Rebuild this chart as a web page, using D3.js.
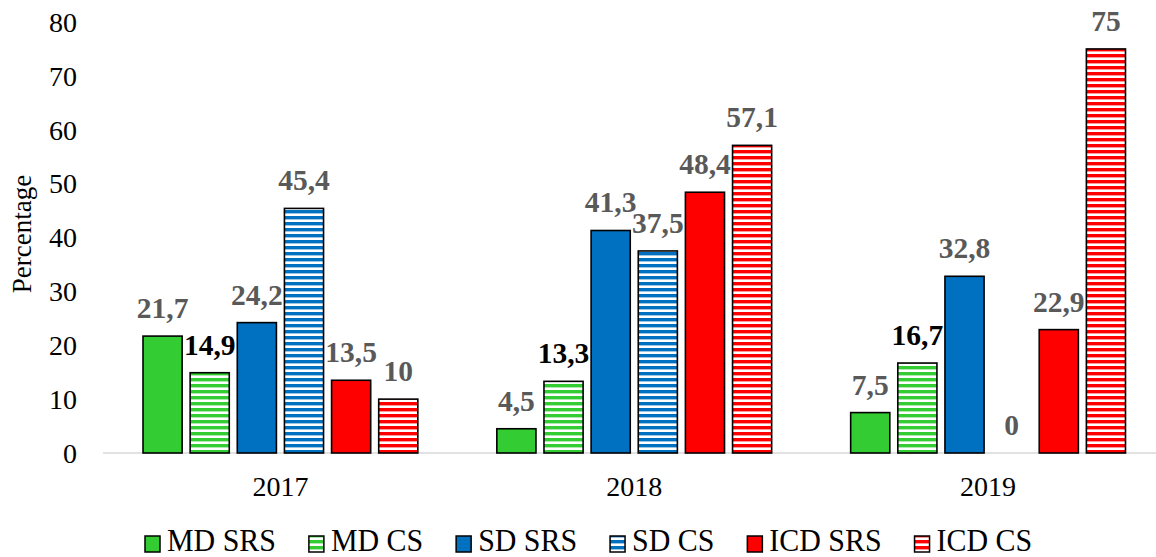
<!DOCTYPE html>
<html>
<head>
<meta charset="utf-8">
<script src="https://cdn.jsdelivr.net/npm/d3@7"></script>
<style>
  body { margin: 0; background: #fff; }
  svg { display: block; font-family: "Liberation Serif", "Times New Roman", serif; }
</style>
</head>
<body>
<svg id="chart" width="1156" height="557"></svg>
<script>
// data
const years = ["2017", "2018", "2019"];
const seriesNames = ["MD SRS", "MD CS", "SD SRS", "SD CS", "ICD SRS", "ICD CS"];
const seriesColors = ["#33cc33", "#33cc33", "#0070c0", "#0070c0", "#ff0000", "#ff0000"];
const striped = [false, true, false, true, false, true];
const values = [
  [21.7, 4.5, 7.5],
  [14.9, 13.3, 16.7],
  [24.2, 41.3, 32.8],
  [45.4, 37.5, 0],
  [13.5, 48.4, 22.9],
  [10, 57.1, 75]
];
// the labels that the reference draws in black instead of grey
const blackLabels = ["14,9", "13,3", "16,7"];
const yTicks = [0, 10, 20, 30, 40, 50, 60, 70, 80];

const svg = d3.select("#chart");
const baseY = 453, topY = 22;

const y = d3.scaleLinear().domain([0, 80]).range([baseY, topY]);
const x0 = d3.scaleBand().domain(years).range([103.5, 1165]);
const x1 = d3.scaleBand().domain(seriesNames).range([39.5, x0.bandwidth() - 39.5]).paddingInner(0.17);

// stripe patterns for the CS series
const defs = svg.append("defs");
seriesNames.forEach((s, i) => {
  if (!striped[i]) return;
  const p = defs.append("pattern")
    .attr("id", "stripe" + i)
    .attr("patternUnits", "userSpaceOnUse")
    .attr("width", 8).attr("height", 6);
  p.append("rect").attr("width", 8).attr("height", 6).attr("fill", "#fff");
  p.append("rect").attr("width", 8).attr("height", 3.4).attr("fill", seriesColors[i]);
});
const fillOf = i => striped[i] ? `url(#stripe${i})` : seriesColors[i];

// y axis labels
svg.append("g").selectAll("text")
  .data(yTicks)
  .join("text")
  .attr("x", 77)
  .attr("y", d => y(d))
  .attr("dy", "0.35em")
  .attr("text-anchor", "end")
  .attr("font-size", 28)
  .attr("fill", "#000")
  .text(d => d);

svg.append("text")
  .attr("transform", "translate(31,234) rotate(-90)")
  .attr("text-anchor", "middle")
  .attr("font-size", 27)
  .text("Percentage");

// baseline
svg.append("line")
  .attr("x1", 103).attr("x2", 1156)
  .attr("y1", baseY).attr("y2", baseY)
  .attr("stroke", "#d9d9d9").attr("stroke-width", 1.5);

// bars
const cells = [];
seriesNames.forEach((s, i) => {
  years.forEach((yr, j) => cells.push({ s, i, yr, v: values[i][j] }));
});

const bars = svg.append("g");
bars.selectAll("rect")
  .data(cells.filter(d => d.v > 0))
  .join("rect")
  .attr("x", d => x0(d.yr) + x1(d.s))
  .attr("y", d => y(d.v))
  .attr("width", x1.bandwidth())
  .attr("height", d => baseY - y(d.v))
  .attr("fill", d => fillOf(d.i))
  .attr("stroke", "#000")
  .attr("stroke-width", 1.6);

// value labels
const fmt = v => String(v).replace(".", ",");
svg.append("g").selectAll("text")
  .data(cells)
  .join("text")
  .attr("x", d => x0(d.yr) + x1(d.s) + x1.bandwidth() / 2)
  .attr("y", d => y(d.v) - 18)
  .attr("text-anchor", "middle")
  .attr("font-size", 29.5)
  .attr("font-weight", "bold")
  .attr("fill", d => blackLabels.includes(fmt(d.v)) ? "#000" : "#595959")
  .text(d => fmt(d.v));

// year labels
svg.append("g").selectAll("text")
  .data(years)
  .join("text")
  .attr("x", d => x0(d) + x0.bandwidth() / 2)
  .attr("y", 496)
  .attr("text-anchor", "middle")
  .attr("font-size", 28)
  .text(d => d);

// legend (text is a little condensed in the reference)
const squeeze = 0.965;
const legend = svg.append("g");
let lx = 145;
seriesNames.forEach((s, i) => {
  legend.append("rect")
    .attr("x", lx).attr("y", 536)
    .attr("width", 15).attr("height", 16)
    .attr("fill", fillOf(i))
    .attr("stroke", "#000").attr("stroke-width", 1.5);
  const t = legend.append("text")
    .attr("transform", `translate(${lx + 22},551) scale(${squeeze},1)`)
    .attr("font-size", 31)
    .text(s);
  lx += 22 + t.node().getComputedTextLength() * squeeze + 33;
});
</script>
</body>
</html>
